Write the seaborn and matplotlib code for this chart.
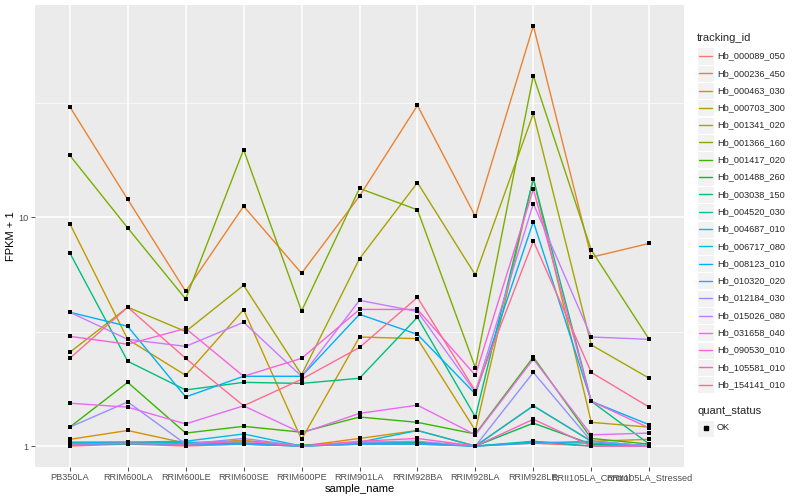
import seaborn as sns
import pandas as pd
import numpy as np
import matplotlib.pyplot as plt
from matplotlib.lines import Line2D
from matplotlib.patches import Rectangle

samples = ["PB350LA", "RRIM600LA", "RRIM600LE", "RRIM600SE", "RRIM600PE", "RRIM901LA",
           "RRIM928BA", "RRIM928LA", "RRIM928LE", "RRII105LA_Control", "RRII105LA_Stressed"]

genes = ["Hb_000089_050", "Hb_000236_450", "Hb_000463_030", "Hb_000703_300", "Hb_001341_020",
         "Hb_001366_160", "Hb_001417_020", "Hb_001488_260", "Hb_003038_150", "Hb_004520_030",
         "Hb_004687_010", "Hb_006717_080", "Hb_008123_010", "Hb_010320_020", "Hb_012184_030",
         "Hb_015026_080", "Hb_031658_040", "Hb_090530_010", "Hb_105581_010", "Hb_154141_010"]

# ggplot default hue palette for 20 levels
gene_colors = ["#F8766D", "#EA8331", "#D89000", "#C09B00", "#A3A500", "#7CAE00", "#39B600",
               "#00BB4E", "#00BF7D", "#00C1A3", "#00BFC4", "#00BAE0", "#00B0F6", "#35A2FF",
               "#9590FF", "#C77CFF", "#E76BF3", "#FA62DB", "#FF62BC", "#FF6C91"]

# FPKM + 1, one list per gene, in sample order
fpkm_000089_050 = [1.0, 1.02, 1.0, 1.02, 1.0, 1.02, 1.03, 1.0, 1.03, 1.0, 1.0]
fpkm_000236_450 = [30.5, 12.0, 4.75, 11.2, 5.7, 12.4, 30.9, 10.1, 69.0, 6.7, 7.7]
fpkm_000463_030 = [1.07, 1.17, 1.03, 1.06, 1.0, 1.08, 1.17, 1.0, 1.5, 1.05, 1.07]
fpkm_000703_300 = [9.4, 2.93, 2.04, 3.95, 1.07, 3.0, 2.95, 1.17, 14.8, 1.27, 1.21]
fpkm_001341_020 = [2.57, 4.05, 3.17, 5.05, 2.05, 6.6, 14.2, 5.6, 28.5, 2.77, 1.98]
fpkm_001366_160 = [18.7, 9.0, 4.4, 19.8, 3.9, 13.4, 10.8, 2.2, 41.7, 7.2, 2.93]
fpkm_001417_020 = [1.21, 1.9, 1.14, 1.22, 1.15, 1.34, 1.27, 1.13, 2.45, 1.08, 1.02]
fpkm_001488_260 = [1.04, 1.04, 1.02, 1.03, 1.01, 1.03, 1.04, 1.0, 1.26, 1.02, 1.0]
fpkm_003038_150 = [7.0, 2.35, 1.76, 1.9, 1.88, 1.98, 3.66, 1.34, 14.8, 1.57, 1.02]
fpkm_004520_030 = [1.02, 1.03, 1.03, 1.02, 1.0, 1.02, 1.02, 1.0, 1.05, 1.0, 1.01]
fpkm_004687_010 = [1.03, 1.02, 1.04, 1.03, 1.0, 1.04, 1.03, 1.0, 1.04, 1.03, 1.0]
fpkm_006717_080 = [1.03, 1.04, 1.05, 1.13, 1.0, 1.04, 1.17, 1.0, 1.5, 1.05, 1.0]
fpkm_008123_010 = [3.85, 3.34, 1.64, 2.02, 2.02, 3.77, 3.08, 1.69, 9.6, 1.57, 1.24]
fpkm_010320_020 = [1.01, 1.03, 1.01, 1.02, 1.0, 1.02, 1.02, 1.0, 1.03, 1.05, 1.0]
fpkm_012184_030 = [1.21, 1.56, 1.02, 1.08, 1.0, 1.04, 1.05, 1.0, 2.1, 1.05, 1.0]
fpkm_015026_080 = [3.85, 2.93, 2.73, 3.48, 2.02, 4.34, 3.88, 1.72, 11.5, 3.0, 2.93]
fpkm_031658_040 = [1.54, 1.48, 1.25, 1.5, 1.14, 1.39, 1.51, 1.12, 2.4, 1.12, 1.14]
fpkm_090530_010 = [3.02, 2.79, 3.27, 2.02, 2.42, 3.96, 3.96, 2.04, 13.3, 1.57, 1.2]
fpkm_105581_010 = [1.02, 1.03, 1.02, 1.05, 1.0, 1.05, 1.08, 1.0, 1.31, 1.0, 1.0]
fpkm_154141_010 = [2.42, 4.05, 2.42, 1.5, 1.96, 2.7, 4.47, 1.74, 7.9, 2.1, 1.48]

all_values = [fpkm_000089_050, fpkm_000236_450, fpkm_000463_030, fpkm_000703_300, fpkm_001341_020,
              fpkm_001366_160, fpkm_001417_020, fpkm_001488_260, fpkm_003038_150, fpkm_004520_030,
              fpkm_004687_010, fpkm_006717_080, fpkm_008123_010, fpkm_010320_020, fpkm_012184_030,
              fpkm_015026_080, fpkm_031658_040, fpkm_090530_010, fpkm_105581_010, fpkm_154141_010]

rows = []
for g, vals in zip(genes, all_values):
    for s, v in zip(samples, vals):
        rows.append({"tracking_id": g, "sample_name": s, "fpkm": v, "quant_status": "OK"})
df = pd.DataFrame(rows)

sns.set_theme(style="darkgrid")
plt.rcParams['font.family'] = ['Liberation Sans', 'DejaVu Sans']

fig = plt.figure(figsize=(8, 5), dpi=100)
ax = fig.add_axes([35 / 800, 33 / 500, 649 / 800, 462 / 500])
ax.set_facecolor("#EBEBEB")

pal = dict(zip(genes, gene_colors))
sns.lineplot(data=df, x="sample_name", y="fpkm", hue="tracking_id", palette=pal,
             sort=False, estimator=None, linewidth=1.0, ax=ax, legend=False)
sns.scatterplot(data=df, x="sample_name", y="fpkm", color="black", marker="s", s=9,
                linewidth=0, ax=ax, legend=False, zorder=5)

ax.set_yscale("log")
ax.set_ylim(0.81, 85)
ax.set_xlim(-0.6, len(samples) - 0.4)
ax.set_yticks([1, 10])
ax.set_yticklabels(["1", "10"])
ax.set_yticks([10 ** 0.5, 10 ** 1.5], minor=True)
ax.grid(which="major", color="white", linewidth=1.1)
ax.grid(which="minor", axis="y", color="white", linewidth=0.5)
ax.tick_params(which="minor", length=0)
ax.tick_params(which="major", length=3, color="#333333", labelsize=6.6, labelcolor="#4D4D4D",
               pad=1.5, bottom=True, left=True, width=0.6)
for sp in ax.spines.values():
    sp.set_visible(False)
ax.set_xlabel("sample_name", fontsize=8, labelpad=1, color="black")
ax.set_ylabel("FPKM + 1", fontsize=8, labelpad=2, color="black")

# legend, ggplot style
fig.text(697 / 800, 1 - 38 / 500, "tracking_id", fontsize=8, va="center", ha="left")
for i, (g, c) in enumerate(zip(genes, gene_colors)):
    yc = 56 + i * 17.3
    fig.patches.append(Rectangle((697 / 800, 1 - (yc + 8.5) / 500), 17 / 800, 17 / 500,
                                 transform=fig.transFigure, facecolor="#F2F2F2",
                                 edgecolor="white", linewidth=0.8))
    fig.lines.append(Line2D([699 / 800, 712 / 800], [1 - yc / 500, 1 - yc / 500],
                            transform=fig.transFigure, color=c, linewidth=1.0))
    fig.text(717 / 800, 1 - yc / 500, g, fontsize=6.6, va="center", ha="left")

fig.text(697 / 800, 1 - 411 / 500, "quant_status", fontsize=8, va="center", ha="left")
fig.patches.append(Rectangle((697 / 800, 1 - (428 + 8.5) / 500), 17 / 800, 17 / 500,
                             transform=fig.transFigure, facecolor="#F2F2F2",
                             edgecolor="white", linewidth=0.8))
fig.lines.append(Line2D([705.5 / 800], [1 - 428 / 500], transform=fig.transFigure,
                        marker="s", markersize=2.5, color="black", linestyle="none"))
fig.text(717 / 800, 1 - 428 / 500, "OK", fontsize=6.6, va="center", ha="left")

fig.savefig("out.png", dpi=100, facecolor="white")
